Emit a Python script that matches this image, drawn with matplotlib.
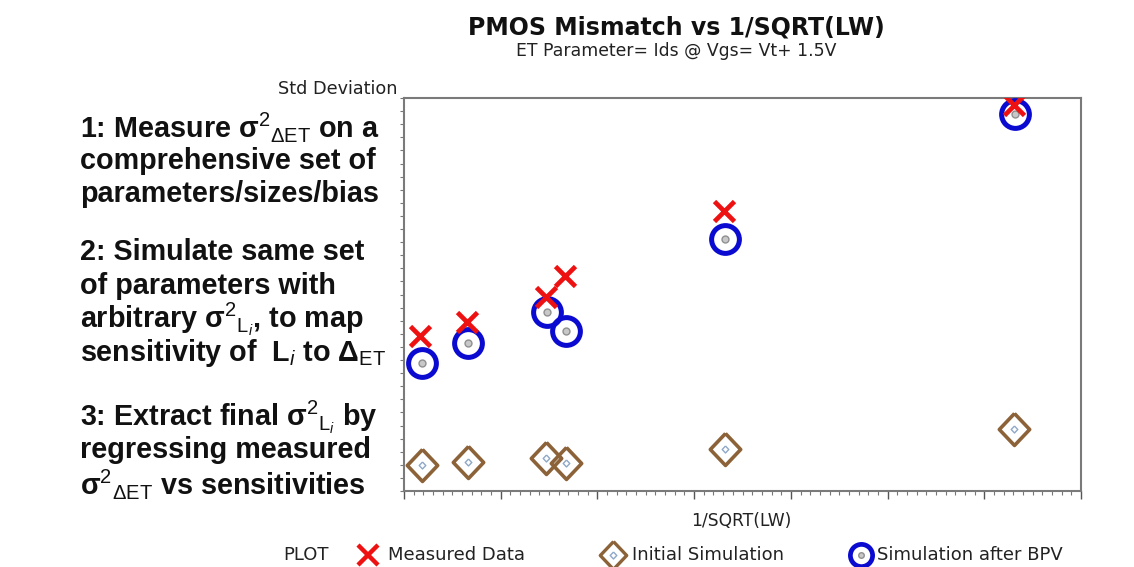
import matplotlib
matplotlib.use("Agg")
import matplotlib.pyplot as plt
from matplotlib.lines import Line2D
from matplotlib.ticker import MultipleLocator, NullFormatter

plt.rcParams['font.family'] = ['Liberation Sans', 'DejaVu Sans']
plt.rcParams['mathtext.fontset'] = 'custom'
plt.rcParams['mathtext.rm'] = 'Liberation Sans'
plt.rcParams['mathtext.it'] = 'Liberation Sans:italic'
plt.rcParams['mathtext.bf'] = 'Liberation Sans:bold'
plt.rcParams['mathtext.sf'] = 'Liberation Sans'

# ---- data (1/SQRT(LW) positions, std deviation values; arbitrary units) ----
x_meas = [0.017, 0.065, 0.147, 0.166, 0.331, 0.631]
y_meas = [1.18, 1.29, 1.48, 1.64, 2.14, 2.95]
x_bpv = [0.019, 0.066, 0.148, 0.168, 0.332, 0.632]
y_bpv = [0.98, 1.13, 1.37, 1.22, 1.92, 2.88]
x_init = [0.019, 0.066, 0.147, 0.167, 0.332, 0.631]
y_init = [0.20, 0.22, 0.25, 0.21, 0.32, 0.47]

title = "PMOS Mismatch vs 1/SQRT(LW)"
subtitle = "ET Parameter= Ids @ Vgs= Vt+ 1.5V"
ylabel = "Std Deviation"
xlabel = "1/SQRT(LW)"
legend_title = "PLOT"
legend_labels = ["Measured Data", "Initial Simulation", "Simulation after BPV"]

RED = "#ee1111"
BLUE = "#0a0ad0"
BROWN = "#8c6239"
DIAMOND = [(0, 1), (0.95, 0), (0, -1), (-0.95, 0), (0, 1)]
WIDE = ['DejaVu Sans']

fig = plt.figure(figsize=(11.34, 5.67), dpi=100)
W, H = 1134, 567
ax = fig.add_axes([404 / W, 1 - 491 / H, (1081 - 404) / W, (491 - 98) / H])
ax.set_xlim(0, 0.7)
ax.set_ylim(0, 3.0)

# initial simulation diamonds
ax.plot(x_init, y_init, ls='none', marker=DIAMOND, ms=23, mfc='none', mec=BROWN, mew=2.6, zorder=3)
ax.plot(x_init, y_init, ls='none', marker=DIAMOND, ms=5, mfc='none', mec='#8fa8c8', mew=1.0, zorder=3)
# simulation after BPV circles
ax.plot(x_bpv, y_bpv, ls='none', marker='o', ms=20, mfc='none', mec=BLUE, mew=3.6, zorder=4)
ax.plot(x_bpv, y_bpv, ls='none', marker='o', ms=5, mfc='#c8c8c8', mec='#909090', mew=1.0, zorder=4)
# measured data crosses
ax.plot(x_meas, y_meas, ls='none', marker='x', ms=15, mec=RED, mew=3.4, zorder=5)

for s in ax.spines.values():
    s.set_color('#7a7a7a')
    s.set_linewidth(1.5)
ax.xaxis.set_major_locator(MultipleLocator(0.1))
ax.xaxis.set_minor_locator(MultipleLocator(0.01))
ax.yaxis.set_major_locator(MultipleLocator(0.5))
ax.yaxis.set_minor_locator(MultipleLocator(0.1))
ax.xaxis.set_major_formatter(NullFormatter())
ax.yaxis.set_major_formatter(NullFormatter())
ax.tick_params(axis='x', which='major', direction='out', length=6, width=1, color='#555555')
ax.tick_params(axis='x', which='minor', direction='out', length=3, width=0.8, color='#777777')
ax.tick_params(axis='y', which='both', direction='out', length=3, width=0.8, color='#777777')
ax.tick_params(top=False, right=False)

# titles and axis labels
fig.text(676 / W, 1 - 28 / H, title, ha='center', va='center', fontsize=17, fontweight='bold',
         color='#111111', family=WIDE)
fig.text(676 / W, 1 - 51 / H, subtitle, ha='center', va='center', fontsize=12.4, color='#222222', family=WIDE)
fig.text(397 / W, 1 - 89 / H, ylabel, ha='right', va='center', fontsize=12.7, color='#222222', family=WIDE)
fig.text(741 / W, 1 - 521 / H, xlabel, ha='center', va='center', fontsize=12.3, color='#222222', family=WIDE)

# legend row
ly = 1 - 555 / H
fig.text(283 / W, ly, legend_title, ha='left', va='center', fontsize=13, color='#222222', family=WIDE)
fig.add_artist(Line2D([368 / W], [ly], transform=fig.transFigure, marker='x', ms=15, mec=RED, mew=3.2, ls='none'))
fig.text(388 / W, ly, legend_labels[0], ha='left', va='center', fontsize=13, color='#222222', family=WIDE)
fig.add_artist(Line2D([613 / W], [ly], transform=fig.transFigure, marker=DIAMOND, ms=20, mfc='none', mec=BROWN, mew=2.4, ls='none'))
fig.add_artist(Line2D([613 / W], [ly], transform=fig.transFigure, marker=DIAMOND, ms=5, mfc='none', mec='#8fa8c8', mew=1.0, ls='none'))
fig.text(632 / W, ly, legend_labels[1], ha='left', va='center', fontsize=13, color='#222222', family=WIDE)
fig.add_artist(Line2D([861 / W], [ly], transform=fig.transFigure, marker='o', ms=16, mfc='none', mec=BLUE, mew=3.4, ls='none'))
fig.add_artist(Line2D([861 / W], [ly], transform=fig.transFigure, marker='o', ms=4, mfc='#c8c8c8', mec='#909090', mew=1.0, ls='none'))
fig.text(877 / W, ly, legend_labels[2], ha='left', va='center', fontsize=13, color='#222222', family=WIDE)

# left explanatory text
lines = [
    (127, r"1: Measure σ$^{2}{}_{\Delta\mathrm{ET}}$ on a"),
    (161, "comprehensive set of"),
    (194, "parameters/sizes/bias"),
    (252, "2: Simulate same set"),
    (286, "of parameters with"),
    (319, r"arbitrary σ$^{2}{}_{\mathrm{L}_{\mathit{i}}}$, to map"),
    (353, r"sensitivity of  L$_{\mathit{i}}$ to Δ$_{\mathrm{ET}}$"),
    (417, r"3: Extract final σ$^{2}{}_{\mathrm{L}_{\mathit{i}}}$ by"),
    (450, "regressing measured"),
    (484, r"σ$^{2}{}_{\Delta\mathrm{ET}}$ vs sensitivities"),
]
for yy, t in lines:
    fig.text(80 / W, 1 - yy / H, t, ha='left', va='center', fontsize=20.7, fontweight='bold', color='#111111')

fig.savefig("out.png", dpi=100)
